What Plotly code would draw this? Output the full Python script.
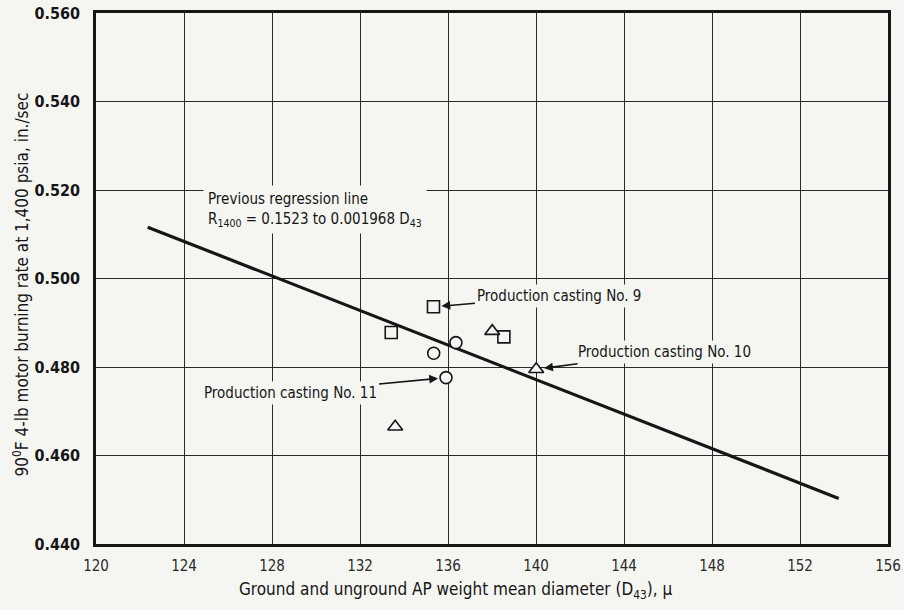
import plotly.graph_objects as go

# Burning rate vs AP weight mean diameter
x_ticks = [120, 124, 128, 132, 136, 140, 144, 148, 152, 156]
y_ticks = [0.440, 0.460, 0.480, 0.500, 0.520, 0.540, 0.560]

# Previous regression line end points
reg_x = [122.35, 153.76]
reg_y = [0.5116, 0.4503]

# Measured points by symbol
sq_x = [135.34, 133.42, 138.54]
sq_y = [0.4936, 0.4878, 0.4868]
ci_x = [135.35, 136.36, 135.91]
ci_y = [0.4831, 0.4855, 0.4776]
tr_x = [138.01, 140.01, 133.60]
tr_y = [0.4881, 0.4795, 0.4665]

BG = "#f5f5f2"
INK = "#161616"
FONT = "DejaVu Sans Condensed, DejaVu Sans, sans-serif"

fig = go.Figure()

fig.add_trace(go.Scatter(x=reg_x, y=reg_y, mode="lines",
                         line=dict(color=INK, width=3.2), showlegend=False,
                         hoverinfo="skip"))

marker_common = dict(size=12, color=BG, line=dict(color=INK, width=1.6))
fig.add_trace(go.Scatter(x=sq_x, y=sq_y, mode="markers",
                         marker=dict(symbol="square", **marker_common),
                         showlegend=False))
fig.add_trace(go.Scatter(x=ci_x, y=ci_y, mode="markers",
                         marker=dict(symbol="circle", **marker_common),
                         showlegend=False))
fig.add_trace(go.Scatter(x=tr_x, y=tr_y, mode="markers",
                         marker=dict(symbol="triangle-up", size=13, color=BG,
                                     line=dict(color=INK, width=1.6)),
                         showlegend=False))

ann_font = dict(family=FONT, size=15, color=INK)

# Regression note
fig.add_annotation(x=124.85, y=0.5212, xref="x", yref="y",
                   xanchor="left", yanchor="top", align="left",
                   text="Previous regression line<br>R<sub>1400</sub> = 0.1523 to 0.001968 D<sub>43</sub>",
                   showarrow=False, bgcolor=BG, borderpad=4, font=ann_font)

# Callouts for production castings
callouts = [
    ("Production casting No. 9", sq_x[0], sq_y[0], 126, -11),
    ("Production casting No. 10", tr_x[1], tr_y[1], 128, -17),
    ("Production casting No. 11", ci_x[2], ci_y[2], -156, 15),
]
for text, cx, cy, ax, ay in callouts:
    fig.add_annotation(x=cx, y=cy, xref="x", yref="y", text=text,
                       showarrow=True, ax=ax, ay=ay, axref="pixel", ayref="pixel",
                       arrowhead=2, arrowsize=1.1, arrowwidth=1.6,
                       arrowcolor=INK, standoff=8, bgcolor=BG, borderpad=2,
                       font=ann_font)

# Axis titles
fig.add_annotation(x=0.4536, y=-0.062, xref="paper", yref="paper",
                   xanchor="center", yanchor="top",
                   text="Ground and unground AP weight mean diameter (D<sub>43</sub>), \u03bc",
                   showarrow=False, font=dict(family=FONT, size=17, color=INK))
fig.add_annotation(x=-0.0952, y=0.488, xref="paper", yref="paper",
                   xanchor="center", yanchor="middle", textangle=-90,
                   text="90<sup>0</sup>F 4-lb motor burning rate at 1,400 psia, in./sec",
                   showarrow=False, font=dict(family=FONT, size=17, color=INK))

fig.update_xaxes(range=[120, 156], tickvals=x_ticks,
                 ticktext=[str(v) for v in x_ticks], automargin=False,
                 ticklabeloverflow="allow",
                 showgrid=True, gridcolor="#2a2a2a", gridwidth=1,
                 showline=True, linecolor=INK, linewidth=2.6, mirror=True,
                 zeroline=False, ticks="", ticklabelstandoff=6,
                 tickfont=dict(family=FONT, size=15, color="#2a2a2a"))
fig.update_yaxes(range=[0.44, 0.56], tickvals=y_ticks,
                 ticktext=[f"{v:.3f}" for v in y_ticks], automargin=False,
                 ticklabeloverflow="allow",
                 showgrid=True, gridcolor="#2a2a2a", gridwidth=1,
                 showline=True, linecolor=INK, linewidth=2.6, mirror=True,
                 zeroline=False, ticks="", ticklabelstandoff=10,
                 tickfont=dict(family=FONT, size=16, color=INK, weight="bold"))

fig.update_layout(width=904, height=610, paper_bgcolor=BG, plot_bgcolor=BG,
                  margin=dict(l=96, r=16, t=13, b=66, autoexpand=False),
                  showlegend=False)

fig.write_html("out.html")
